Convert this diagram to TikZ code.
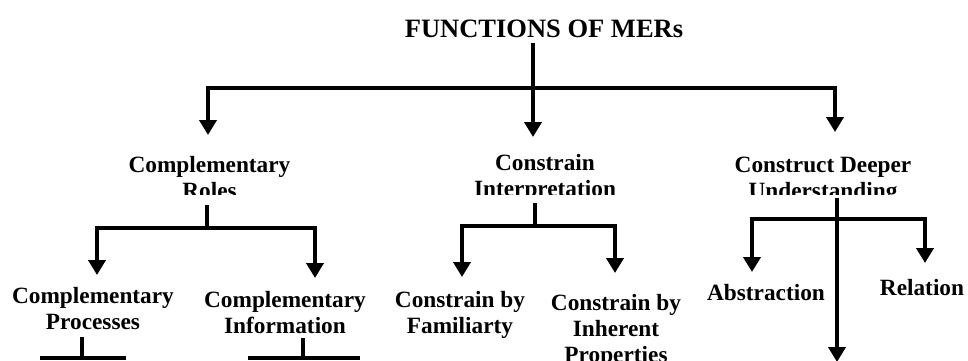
\documentclass[tikz,border=0pt]{standalone}
\usepackage{fontspec}
\setmainfont{Liberation Serif}
\usetikzlibrary{arrows.meta}
\tikzset{
  ln/.style={line width=4.3pt},
  arr/.style={line width=4.3pt,-{Triangle[width=17pt,length=15pt]}},
  arr2/.style={line width=4.3pt,{Triangle[width=17pt,length=15pt]}-{Triangle[width=17pt,length=15pt]}},
  lbl/.style={font=\fontsize{23.3}{26}\selectfont\bfseries, align=center, inner sep=0pt, anchor=base},
}
\begin{document}
\begin{tikzpicture}[x=1pt,y=-1pt]
\useasboundingbox (0,0) rectangle (968,360);
\clip (0,0) rectangle (968,360);
\fill[white] (0,0) rectangle (968,360);

% title
\node[font=\fontsize{26.5}{30}\selectfont\bfseries, inner sep=0pt, anchor=base] (T) at (544,37) {FUNCTIONS OF MERs};

% level 2 (lower line cut off); base anchor = last line's baseline
\begin{scope}
  \clip (0,0) rectangle (968,194);
  \node[lbl] (CR) at (209.5,198) {Complementary\\Roles};
  \node[lbl] (CI) at (545,196) {Constrain\\Interpretation};
  \node[lbl] (CD) at (823,198) {Construct Deeper\\Understanding};
\end{scope}

% level 3
\node[lbl] (CP)  at (93,329)  {Complementary\\Processes};
\node[lbl] (CIn) at (285,333) {Complementary\\Information};
\node[lbl] (CF)  at (460,333) {Constrain by\\Familiarty};
\node[lbl] (CH)  at (616,362) {Constrain by\\Inherent\\Properties};
\node[lbl] (AB)  at (766,300) {Abstraction};
\node[lbl] (RE)  at (922,295) {Relation};

% coordinates
\coordinate (t0) at (533,43);
\coordinate (tL) at (208,135);
\coordinate (tLc) at (208,88);
\coordinate (tRc) at (835,88);
\coordinate (tR) at (835,132);
\coordinate (tM) at (533,137);

\coordinate (r0) at (207,205);
\coordinate (rJ) at (207,228);
\coordinate (rL) at (97,275);
\coordinate (rLc) at (97,228);
\coordinate (rRc) at (315,228);
\coordinate (rR) at (315,278);

\coordinate (i0) at (535,203);
\coordinate (iJ) at (535,226);
\coordinate (iL) at (462,277);
\coordinate (iLc) at (462,226);
\coordinate (iRc) at (615,226);
\coordinate (iR) at (615,273);

\coordinate (d0) at (837,198);
\coordinate (dB) at (837,362);
\coordinate (dL) at (752,272);
\coordinate (dLc) at (752,219);
\coordinate (dRc) at (925,219);
\coordinate (dR) at (925,263);

\coordinate (p0) at (82,337);
\coordinate (pJ) at (82,358);
\coordinate (pL) at (40,358);
\coordinate (pR) at (126,358);

\coordinate (n0) at (303,338);
\coordinate (nJ) at (303,358);
\coordinate (nL) at (248,358);
\coordinate (nR) at (360,358);

% top level
\draw[arr2] (tL) -- (tLc) -- (tRc) -- (tR);
\draw[arr] (t0) -- (tM);

% complementary roles
\draw[ln] (r0) -- (rJ);
\draw[arr2] (rL) -- (rLc) -- (rRc) -- (rR);

% constrain interpretation
\draw[ln] (i0) -- (iJ);
\draw[arr2] (iL) -- (iLc) -- (iRc) -- (iR);

% construct deeper understanding
\draw[arr] (d0) -- (dB);
\draw[arr2] (dL) -- (dLc) -- (dRc) -- (dR);

% level 3 stubs
\draw[ln] (p0) -- (pJ);
\draw[ln] (pL) -- (pR);
\draw[ln] (n0) -- (nJ);
\draw[ln] (nL) -- (nR);
\end{tikzpicture}
\end{document}
